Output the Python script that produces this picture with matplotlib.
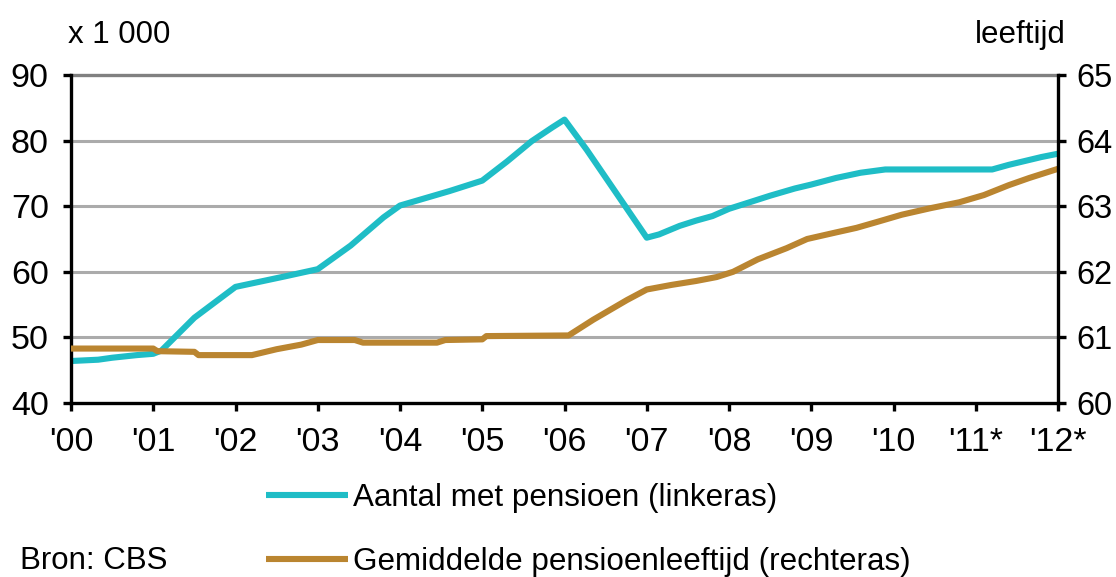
import matplotlib
matplotlib.use("Agg")
import matplotlib.pyplot as plt

plt.rcParams['font.family'] = ['Liberation Sans', 'DejaVu Sans']

# jaren als decimaal (0 = 2000)
jaar_aantal = [0.0, 0.33, 0.5, 0.8, 1.0, 1.1, 1.5, 2.0, 2.3, 2.6, 3.0, 3.4, 3.8, 4.0,
               4.3, 4.6, 5.0, 5.3, 5.6, 5.85, 6.0, 6.27, 7.0, 7.15, 7.4, 7.6, 7.8, 8.0,
               8.25, 8.5, 8.8, 9.0, 9.3, 9.6, 9.9, 11.2, 11.4, 11.6, 11.8, 12.0]
aantal = [46.4, 46.6, 46.9, 47.3, 47.5, 48.0, 53.0, 57.7, 58.5, 59.3, 60.4, 64.0, 68.3, 70.1,
          71.2, 72.3, 73.9, 76.8, 79.9, 82.0, 83.2, 78.6, 65.2, 65.7, 67.0, 67.8, 68.5, 69.6,
          70.6, 71.6, 72.7, 73.3, 74.3, 75.1, 75.6, 75.6, 76.3, 76.9, 77.5, 78.0]

jaar_leeftijd = [0.0, 1.0, 1.05, 1.5, 1.55, 2.2, 2.5, 2.8, 3.0, 3.45, 3.55, 4.45, 4.55,
                 5.0, 5.05, 6.05, 6.35, 6.76, 7.0, 7.3, 7.6, 7.85, 8.05, 8.35, 8.7, 8.95,
                 9.3, 9.55, 9.8, 10.1, 10.45, 10.8, 11.1, 11.4, 11.65, 12.0]
leeftijd = [60.83, 60.83, 60.79, 60.78, 60.73, 60.73, 60.82, 60.89, 60.96, 60.96, 60.92,
            60.92, 60.96, 60.97, 61.02, 61.03, 61.27, 61.57, 61.73, 61.80, 61.86, 61.92,
            62.0, 62.19, 62.36, 62.5, 62.6, 62.67, 62.76, 62.87, 62.97, 63.06, 63.17,
            63.32, 63.43, 63.57]

tick_labels = ["'00", "'01", "'02", "'03", "'04", "'05", "'06", "'07", "'08", "'09",
               "'10", "'11*", "'12*"]

cyaan = '#1FBDC6'
bruin = '#BA8530'

fig = plt.figure(figsize=(11.16, 5.77), dpi=100)
ax = fig.add_axes([71 / 1116, 1 - 403 / 577, (1058 - 71) / 1116, (403 - 75) / 577])
ax2 = ax.twinx()

ax.set_xlim(0, 12)
ax.set_ylim(40, 90)
ax2.set_ylim(60, 65)

for v in [50, 60, 70, 80]:
    ax.axhline(v, color='#ABABAB', lw=2.2, zorder=0)
ax.axhline(90, color='#808080', lw=2.4, zorder=0, clip_on=False)

l1, = ax.plot(jaar_aantal, aantal, color=cyaan, lw=4.4, solid_capstyle='butt',
              label='Aantal met pensioen (linkeras)')
l2, = ax2.plot(jaar_leeftijd, leeftijd, color=bruin, lw=4.4, solid_capstyle='butt',
               label='Gemiddelde pensioenleeftijd (rechteras)')

ax.set_xticks(range(13))
ax.set_xticklabels(tick_labels)
ax.set_yticks([40, 50, 60, 70, 80, 90])
ax2.set_yticks([60, 61, 62, 63, 64, 65])

for a in (ax, ax2):
    a.spines['top'].set_visible(False)
    for s in ('left', 'right', 'bottom'):
        a.spines[s].set_linewidth(2.4)
ax.spines['right'].set_visible(False)
ax2.spines['left'].set_visible(False)
ax2.spines['bottom'].set_visible(False)

ax.tick_params(axis='y', length=6, width=2.4, labelsize=24.5, pad=10)
ax.tick_params(axis='x', length=6, width=2.4, labelsize=24.5, pad=11)
ax2.tick_params(axis='y', length=6, width=2.4, labelsize=23.5, pad=7)

fig.text(68 / 1116, 1 - 43 / 577, 'x 1 000', fontsize=22.5, ha='left', va='baseline')
fig.text(1066 / 1116, 1 - 43 / 577, 'leeftijd', fontsize=22.5, ha='right', va='baseline')
fig.text(20 / 1116, 1 - 569 / 577, 'Bron: CBS', fontsize=22.5, ha='left', va='baseline')

fig.legend(handles=[l1, l2], loc='upper left', bbox_to_anchor=(266 / 1116, 1 - 483 / 577),
           frameon=False, fontsize=22.6, handlelength=2.6, handletextpad=0.16,
           labelspacing=1.08, borderaxespad=0, borderpad=0)

fig.savefig('out.png', dpi=100)
